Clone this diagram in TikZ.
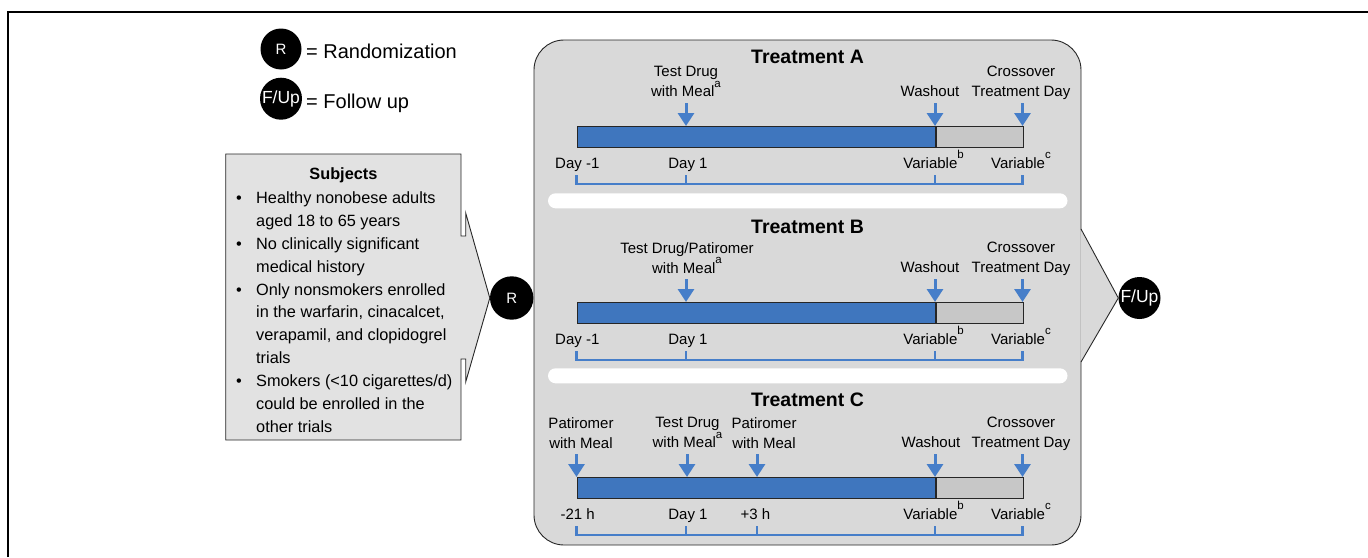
\documentclass[tikz,border=0pt]{standalone}
\usepackage{fontspec}
\setmainfont{Liberation Sans}
\usetikzlibrary{arrows.meta}

\definecolor{barblue}{RGB}{63,118,190}
\definecolor{markblue}{RGB}{70,126,201}
\definecolor{panelgray}{RGB}{217,217,217}
\definecolor{boxgray}{RGB}{226,226,226}
\definecolor{restgray}{RGB}{199,199,199}

% raised footnote letter
\newcommand{\tlsup}[1]{\raisebox{9.5pt}{\fontsize{11.5}{11.5}\selectfont #1}}

\tikzset{
    tltext/.style={font=\fontsize{15}{20}\selectfont, align=center, inner sep=0pt},
    tltitle/.style={font=\fontsize{19.5}{22}\selectfont\bfseries, inner sep=0pt, anchor=base},
    legendtext/.style={font=\fontsize{20}{24}\selectfont, inner sep=0pt, anchor=base west},
    dotnode/.style={circle, fill=black, text=white, inner sep=0pt},
    tlarrow/.style={draw=markblue, line width=3pt, -{Triangle[width=16pt,length=13pt]}},
    bluebar/.style={draw=black!85, line width=0.9pt, fill=barblue, minimum width=358.5pt,
        minimum height=20.7pt, anchor=north west, inner sep=0pt},
    restbar/.style={draw=black!85, line width=0.9pt, fill=restgray, minimum width=87.5pt,
        minimum height=20.7pt, anchor=north west, inner sep=0pt},
    bracket/.style={draw=markblue, line width=2.2pt},
    divider/.style={fill=white, rounded corners=7.5pt},
    outline/.style={draw=black!85, line width=0.9pt}
}

\begin{document}
\begin{tikzpicture}[x=1pt,y=-1pt]
    \useasboundingbox (0,0) rectangle (1368,557);
    % frame
    \draw[line width=2.2pt] (8.3,557) -- (8.3,12.2) -- (1368,12.2);

    % legend
    \node[dotnode, minimum size=41pt, font=\fontsize{15}{18}\selectfont] (legR) at (281,49) {R};
    \node[legendtext] (legRtxt) at (306,58.3) {= Randomization};
    \node[dotnode, minimum size=42pt, font=\fontsize{17.5}{20}\selectfont] (legF) at (281,98.7) {F/Up};
    \node[legendtext] (legFtxt) at (306,108.3) {= Follow up};

    % subjects
    \node[dotnode, minimum size=43.4pt, font=\fontsize{15}{18}\selectfont] (rnd) at (511.7,298) {R};
    \draw[outline, fill=boxgray] (225.7,154) -- (461,154) -- (461,236) -- (465.7,236) -- (465.7,213)
        -- (rnd.west) -- (465.7,382) -- (465.7,359) -- (461,359) -- (461,440) -- (225.7,440) -- cycle;
    \node[font=\fontsize{16.3}{20}\selectfont\bfseries, inner sep=0pt, anchor=base] (subjtitle)
        at (343.4,179.3) {Subjects};
    \node[font=\fontsize{16.3}{22.9}\selectfont, align=left, inner sep=0pt, anchor=north west] (subjlist)
        at (236,191.4) {\makebox[20pt][l]{\textbullet}Healthy nonobese adults\\
        \hspace*{20pt}aged 18 to 65 years\\
        \makebox[20pt][l]{\textbullet}No clinically significant\\
        \hspace*{20pt}medical history\\
        \makebox[20pt][l]{\textbullet}Only nonsmokers enrolled\\
        \hspace*{20pt}in the warfarin, cinacalcet,\\
        \hspace*{20pt}verapamil, and clopidogrel\\
        \hspace*{20pt}trials\\
        \makebox[20pt][l]{\textbullet}Smokers (<10 cigarettes/d)\\
        \hspace*{20pt}could be enrolled in the\\
        \hspace*{20pt}other trials};

    % treatment panel
    \node[dotnode, minimum size=42pt, font=\fontsize{17.5}{20}\selectfont] (fup) at (1139.5,298) {F/Up};
    \draw[outline, fill=panelgray, rounded corners=30pt] (534,40) rectangle (1081,545);
    \fill[panelgray] (1080.3,229) -- (fup.west) -- (1080.3,362) -- cycle;
    \draw[outline] (1081,229) -- (fup.west) -- (1081,362);
    \fill[divider] (548,193.3) rectangle (1067.5,208.3);
    \fill[divider] (548,368.3) rectangle (1067.5,383.3);

    \node[tltitle] (titleA) at (807.5,63.3) {Treatment A};
    \node[tltitle] (titleB) at (807.5,233.3) {Treatment B};
    \node[tltitle] (titleC) at (807.5,406) {Treatment C};

    % treatment A
    \begin{scope}
        \node[tltext, anchor=north] (drugA) at (686,66) {Test Drug\\with Meal\tlsup{a}};
        \node[tltext, anchor=base] (washA) at (930,96.7) {Washout};
        \node[tltext, anchor=north] (crossA) at (1021,66) {Crossover\\Treatment Day};
        \node[bluebar] (barA) at (576.5,126) {};
        \node[restbar] (restA) at (barA.north east) {};
        \coordinate (mA1) at (686,103);
        \coordinate (mAw) at (935,103);
        \coordinate (mAe) at (1022.5,103);
        \draw[tlarrow] (mA1) -- (mA1 |- barA.north);
        \draw[tlarrow] (mAw) -- (mAw |- barA.north);
        \draw[tlarrow] (mAe) -- (mAe |- barA.north);
        \node[tltext, anchor=base] (dayA0) at (577.3,168.3) {Day -1};
        \node[tltext, anchor=base] (dayA1) at (688,168.3) {Day 1};
        \node[tltext, anchor=base] (varAb) at (933.6,168.3) {Variable\tlsup{b}};
        \node[tltext, anchor=base] (varAc) at (1021,168.3) {Variable\tlsup{c}};
        \draw[bracket] (576.5,175) -- (576.5,184.3) -- (1022.5,184.3) -- (1022.5,175);
        \draw[bracket] (686,175) -- (686,184.3);
        \draw[bracket] (935,175) -- (935,184.3);
    \end{scope}

    % treatment B
    \begin{scope}[yshift=-176pt]
        \node[tltext, anchor=north] (drugB) at (687,66) {Test Drug/Patiromer\\with Meal\tlsup{a}};
        \node[tltext, anchor=base] (washB) at (930,96.7) {Washout};
        \node[tltext, anchor=north] (crossB) at (1021,66) {Crossover\\Treatment Day};
        \node[bluebar] (barB) at (576.5,126) {};
        \node[restbar] (restB) at (barB.north east) {};
        \coordinate (mB1) at (686,103);
        \coordinate (mBw) at (935,103);
        \coordinate (mBe) at (1022.5,103);
        \draw[tlarrow] (mB1) -- (mB1 |- barB.north);
        \draw[tlarrow] (mBw) -- (mBw |- barB.north);
        \draw[tlarrow] (mBe) -- (mBe |- barB.north);
        \node[tltext, anchor=base] (dayB0) at (577.3,168.3) {Day -1};
        \node[tltext, anchor=base] (dayB1) at (688,168.3) {Day 1};
        \node[tltext, anchor=base] (varBb) at (933.6,168.3) {Variable\tlsup{b}};
        \node[tltext, anchor=base] (varBc) at (1021,168.3) {Variable\tlsup{c}};
        \draw[bracket] (576.5,175) -- (576.5,184.3) -- (1022.5,184.3) -- (1022.5,175);
        \draw[bracket] (686,175) -- (686,184.3);
        \draw[bracket] (935,175) -- (935,184.3);
    \end{scope}

    % treatment C
    \begin{scope}[yshift=-351pt]
        \node[tltext, anchor=north] (patC0) at (581,66) {Patiromer\\with Meal};
        \node[tltext, anchor=north] (drugC) at (687.5,66) {Test Drug\\with Meal\tlsup{a}};
        \node[tltext, anchor=north] (patC3) at (764,66) {Patiromer\\with Meal};
        \node[tltext, anchor=base] (washC) at (931,96.7) {Washout};
        \node[tltext, anchor=north] (crossC) at (1021,66) {Crossover\\Treatment Day};
        \node[bluebar] (barC) at (576.5,126) {};
        \node[restbar] (restC) at (barC.north east) {};
        \coordinate (mC0) at (576.5,103);
        \coordinate (mC1) at (687,103);
        \coordinate (mC3) at (757,103);
        \coordinate (mCw) at (935,103);
        \coordinate (mCe) at (1022.5,103);
        \draw[tlarrow] (mC0) -- (mC0 |- barC.north);
        \draw[tlarrow] (mC1) -- (mC1 |- barC.north);
        \draw[tlarrow] (mC3) -- (mC3 |- barC.north);
        \draw[tlarrow] (mCw) -- (mCw |- barC.north);
        \draw[tlarrow] (mCe) -- (mCe |- barC.north);
        \node[tltext, anchor=base] (hrC0) at (577.7,168.3) {-21 h};
        \node[tltext, anchor=base] (dayC1) at (688,168.3) {Day 1};
        \node[tltext, anchor=base] (hrC3) at (755.4,168.3) {+3 h};
        \node[tltext, anchor=base] (varCb) at (933.6,168.3) {Variable\tlsup{b}};
        \node[tltext, anchor=base] (varCc) at (1021,168.3) {Variable\tlsup{c}};
        \draw[bracket] (576.5,175) -- (576.5,184.3) -- (1022.5,184.3) -- (1022.5,175);
        \draw[bracket] (686,175) -- (686,184.3);
        \draw[bracket] (757,175) -- (757,184.3);
        \draw[bracket] (935,175) -- (935,184.3);
    \end{scope}
\end{tikzpicture}
\end{document}
